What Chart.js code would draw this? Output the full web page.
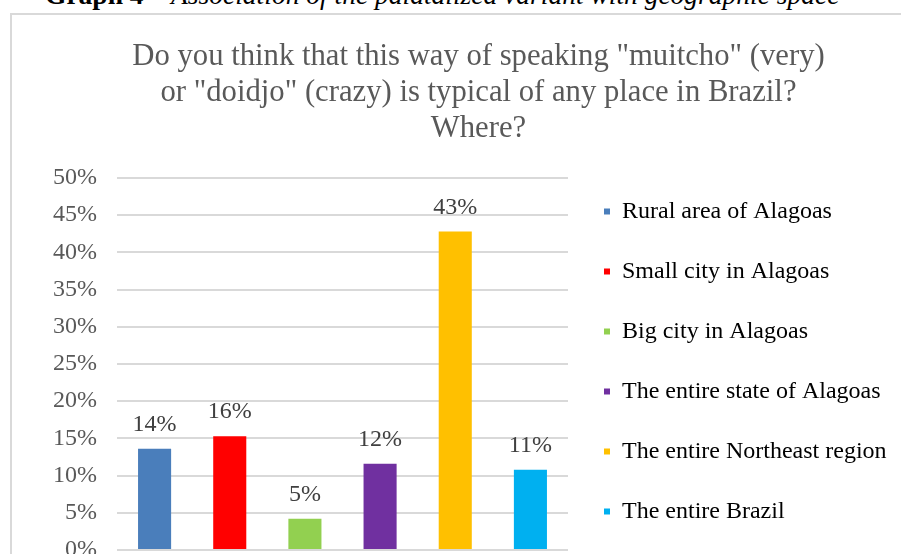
<!DOCTYPE html>
<html>
<head>
<meta charset="utf-8">
<script src="https://cdn.jsdelivr.net/npm/chart.js@4.4.1/dist/chart.umd.min.js"></script>
<style>
  body { margin: 0; width: 901px; height: 554px; overflow: hidden; position: relative; background: #fff; }
  #caption { position: absolute; left: 45px; top: -19px; font: 27.5px/28px "Liberation Serif", serif; color: #000; white-space: nowrap; }
  #frame { position: absolute; left: 10px; top: 13px; width: 1000px; height: 700px; border: 2px solid #d9d9d9; }
  #chart { position: absolute; left: 0; top: 0; }
</style>
</head>
<body>
<div id="caption"><b>Graph 4</b> – <i>Association of the palatalized variant with geographic space</i></div>
<div id="frame"><canvas id="chart" width="933" height="560"></canvas></div>
<script>
// valores (%)
const categories = ['Rural area of Alagoas', 'Small city in Alagoas', 'Big city in Alagoas',
    'The entire state of Alagoas', 'The entire Northeast region', 'The entire Brazil'];
const values = [13.6, 15.3, 4.2, 11.6, 42.8, 10.8];
const valueLabels = ['14%', '16%', '5%', '12%', '43%', '11%'];
const colors = ['#4a7ebb', '#ff0000', '#92d050', '#7030a0', '#ffc000', '#00b0f0'];
const titleLines = ['Do you think that this way of speaking "muitcho" (very)',
    'or "doidjo" (crazy) is typical of any place in Brazil?', 'Where?'];

const serif = '"Liberation Serif", "Times New Roman", serif';

// rótulos acima das barras
const barLabels = {
    id: 'barLabels',
    afterDatasetsDraw(chart) {
        const ctx = chart.ctx;
        const meta = chart.getDatasetMeta(0);
        ctx.save();
        ctx.font = '24px ' + serif;
        ctx.fillStyle = '#404040';
        ctx.textAlign = 'center';
        ctx.textBaseline = 'alphabetic';
        meta.data.forEach(function(bar, i) {
            ctx.fillText(valueLabels[i], bar.x, bar.y - 18);
        });
        ctx.restore();
    }
};

// legenda: largura fixa (título centrado) e deslocada para baixo
const legendTweak = {
    id: 'legendTweak',
    afterInit(chart) {
        const lg = chart.legend;
        const fit = lg.fit.bind(lg);
        const draw = lg.draw.bind(lg);
        lg.fit = function() { fit(); this.width = 377; };
        lg.draw = function() {
            this.top += 79; this.bottom += 79;
            draw();
            this.top -= 79; this.bottom -= 79;
        };
    }
};

new Chart(document.getElementById('chart'), {
    type: 'bar',
    data: {
        labels: categories,
        datasets: [{
            data: values,
            backgroundColor: colors,
            barPercentage: 0.44,
            categoryPercentage: 1,
        }]
    },
    options: {
        responsive: false,
        animation: false,
        layout: { padding: { left: 0, right: 0, top: 0, bottom: 25 } },
        scales: {
            x: { display: false },
            y: {
                min: 0,
                max: 50,
                ticks: {
                    stepSize: 5,
                    padding: 20,
                    color: '#595959',
                    font: { family: serif, size: 24 },
                    callback: function(v) { return v + '%'; }
                },
                grid: { color: '#d9d9d9', lineWidth: 2, drawTicks: false },
                border: { display: false },
                afterFit: function(scale) {
                    scale.width = 105;
                    scale.paddingTop = 0;
                    scale.paddingBottom = 0;
                }
            }
        },
        plugins: {
            title: {
                display: true,
                text: titleLines,
                color: '#595959',
                font: { family: serif, size: 30.7, weight: 'normal', lineHeight: 36 / 30.7 },
                padding: { top: 24, bottom: 31 }
            },
            legend: {
                position: 'right',
                labels: {
                    boxWidth: 6,
                    boxHeight: 6,
                    padding: 36,
                    color: '#595959',
                    font: { family: serif, size: 24 },
                    generateLabels: function() {
                        return categories.map(function(c, i) {
                            return { text: c, fillStyle: colors[i], strokeStyle: colors[i], lineWidth: 0, index: i };
                        });
                    }
                }
            },
            tooltip: { enabled: false }
        }
    },
    plugins: [barLabels, legendTweak]
});
</script>
</body>
</html>
